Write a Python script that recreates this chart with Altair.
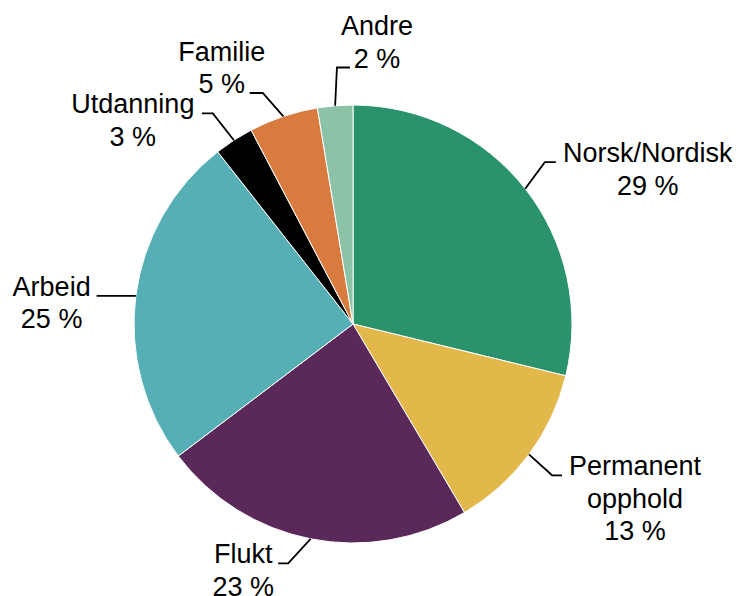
import math
import altair as alt
import pandas as pd

# ---- data ----
categories = ["Norsk/Nordisk", "Permanent opphold", "Flukt", "Arbeid",
              "Utdanning", "Familie", "Andre"]
values = [28.8, 12.7, 23.2, 24.7, 2.9, 5.1, 2.6]
pct_labels = ["29 %", "13 %", "23 %", "25 %", "3 %", "5 %", "2 %"]
name_lines = [["Norsk/Nordisk"], ["Permanent", "opphold"], ["Flukt"], ["Arbeid"],
              ["Utdanning"], ["Familie"], ["Andre"]]
colors = ["#2a936c", "#e2b84b", "#5a2859", "#55afb5", "#000000", "#d97b3e", "#8cc3a7"]

# ---- layout / style ----
W, H = 724, 588
CX, CY, R = 345, 316, 219
FONT = "Liberation Sans"
FS = 27
LH = 32.5
# elbow radius, elbow angle offset (deg), stub length (signed px), text centre offset, attached line
layout = {
    "Norsk/Nordisk": (251, -2.0, 11, 92, 0),
    "Permanent opphold": (250, 0.7, 10, 73, 0),
    "Flukt": (248, 4.0, -10, -35, 0),
    "Arbeid": (245, -0.8, -13, -45, 0),
    "Utdanning": (253, -0.7, -11, -69, 0),
    "Familie": (248, -2.8, -13, -28, 1),
    "Andre": (257, 1.1, 13, 27, 1),
}

pie_df = pd.DataFrame({"cat": categories, "value": values, "idx": range(len(values))})

total = sum(values)
lead_rows, text_rows = [], []
cum = 0.0
for i, (c, v) in enumerate(zip(categories, values)):
    mid = (cum + v / 2) / total * 2 * math.pi
    cum += v
    er, da, stub, toff, attach = layout[c]
    ex, ey = CX + R * math.sin(mid), CY - R * math.cos(mid)
    ea = mid + math.radians(da)
    bx, by = CX + er * math.sin(ea), CY - er * math.cos(ea)
    sx, sy = bx + stub, by
    for p, (x, y) in enumerate([(ex, ey), (bx, by), (sx, sy)]):
        lead_rows.append({"cat": c, "pt": p, "x": x, "y": y})
    lines = name_lines[i] + [pct_labels[i]]
    for j, t in enumerate(lines):
        text_rows.append({"cat": c, "t": t, "x": sx + toff, "y": sy + (j - attach) * LH})

lead_df = pd.DataFrame(lead_rows)
text_df = pd.DataFrame(text_rows)

xs = alt.Scale(domain=[0, W], nice=False, zero=False)
ys = alt.Scale(domain=[0, H], nice=False, zero=False, reverse=True)

pie = alt.Chart(pie_df).mark_arc(radius=R, stroke="white", strokeWidth=1).encode(
    theta=alt.Theta("value:Q", stack=True),
    order=alt.Order("idx:Q"),
    color=alt.Color("cat:N", scale=alt.Scale(domain=categories, range=colors), legend=None),
    x=alt.value(CX),
    y=alt.value(CY),
)

leaders = alt.Chart(lead_df).mark_line(color="black", strokeWidth=1.8).encode(
    x=alt.X("x:Q", scale=xs, axis=None),
    y=alt.Y("y:Q", scale=ys, axis=None),
    detail="cat:N",
    order="pt:Q",
)

texts = alt.Chart(text_df).mark_text(
    font=FONT, fontSize=FS, align="center", baseline="alphabetic", color="black"
).encode(
    x=alt.X("x:Q", scale=xs, axis=None),
    y=alt.Y("y:Q", scale=ys, axis=None),
    text="t:N",
)

chart = alt.layer(pie, leaders, texts).properties(
    width=W, height=H, padding=0, autosize="none"
).configure_view(stroke=None)

chart.save("out.html", embed_options={"renderer": "svg", "actions": False})
